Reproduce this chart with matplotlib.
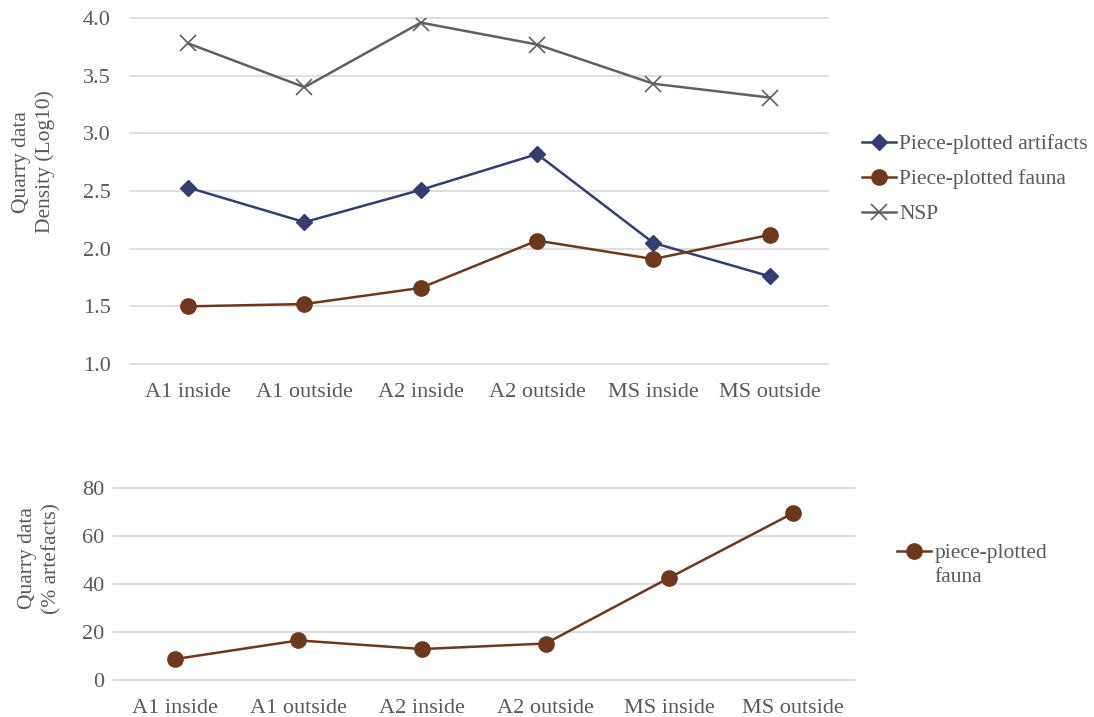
import matplotlib.pyplot as plt

plt.rcParams['font.family'] = ['Liberation Serif', 'DejaVu Serif']

categories = ['A1 inside', 'A1 outside', 'A2 inside', 'A2 outside', 'MS inside', 'MS outside']
artifacts = [2.53, 2.23, 2.51, 2.82, 2.05, 1.76]
fauna = [1.50, 1.52, 1.66, 2.07, 1.91, 2.12]
nsp = [3.78, 3.40, 3.96, 3.77, 3.43, 3.31]
fauna_pct = [8.7, 16.5, 12.9, 15.2, 42.6, 69.5]

text_col = '#595959'
grid_col = '#ddd7d7'
navy = '#333f73'
brown = '#6e381c'
grey = '#606060'

fig = plt.figure(figsize=(10.94, 7.17), dpi=100)
fig.patch.set_facecolor('white')

xs = [i + 0.5 for i in range(len(categories))]


def style(ax, yticks, fmt, ypad):
    ax.set_xlim(0, len(categories))
    ax.set_xticks(xs)
    ax.set_xticklabels(categories)
    ax.set_yticks(yticks)
    ax.set_yticklabels([fmt.format(v) for v in yticks])
    for s in ax.spines.values():
        s.set_visible(False)
    ax.tick_params(length=0, labelsize=16, colors=text_col)
    ax.tick_params(axis='x', pad=14)
    ax.tick_params(axis='y', pad=ypad)
    ax.grid(axis='y', color=grid_col, lw=1.2)
    for gl in ax.get_ygridlines():
        gl.set_clip_on(False)
    ax.set_axisbelow(True)


# top panel
ax1 = fig.add_axes([0.1188, 0.4923, 0.638, 0.4826])
ax1.plot(xs, artifacts, color=navy, lw=1.8, marker='D', ms=8.5, label='Piece-plotted artifacts')
ax1.plot(xs, fauna, color=brown, lw=1.8, marker='o', ms=11, label='Piece-plotted fauna')
ax1.plot(xs, nsp, color=grey, lw=1.8, marker='x', ms=11, mew=1.2, label='NSP')
ax1.set_ylim(1.0, 4.0)
style(ax1, [1.0, 1.5, 2.0, 2.5, 3.0, 3.5, 4.0], '{:.1f}', 14)
ax1.set_ylabel('Quarry data\nDensity (Log10)', fontsize=15.5, color=text_col, linespacing=1.3)
ax1.yaxis.set_label_coords(-0.107, 0.584)
ax1.legend(loc='center left', bbox_to_anchor=(1.036, 0.534), frameon=False, fontsize=15.5,
           labelcolor=text_col, handlelength=1.6, handletextpad=0.15, labelspacing=0.7,
           borderaxespad=0.0)

# bottom panel
ax2 = fig.add_axes([0.1033, 0.0516, 0.678, 0.2678])
ax2.plot(xs, fauna_pct, color=brown, lw=1.8, marker='o', ms=11, label='piece-plotted')
ax2.set_ylim(0, 80)
style(ax2, [0, 20, 40, 60, 80], '{:.0f}', 6)
ax2.set_ylabel('Quarry data\n(% artefacts)', fontsize=15.5, color=text_col, linespacing=1.3)
ax2.yaxis.set_label_coords(-0.070, 0.635)
ax2.legend(loc='center left', bbox_to_anchor=(1.045, 0.661), frameon=False, fontsize=15.5,
           labelcolor=text_col, handlelength=1.6, handletextpad=0.15, borderaxespad=0.0)
# second line of the wrapped legend label
fig.text(0.8538, 0.1939, 'fauna', fontsize=15.5, color=text_col, va='center')

fig.savefig('out.png', dpi=100, facecolor='white')
